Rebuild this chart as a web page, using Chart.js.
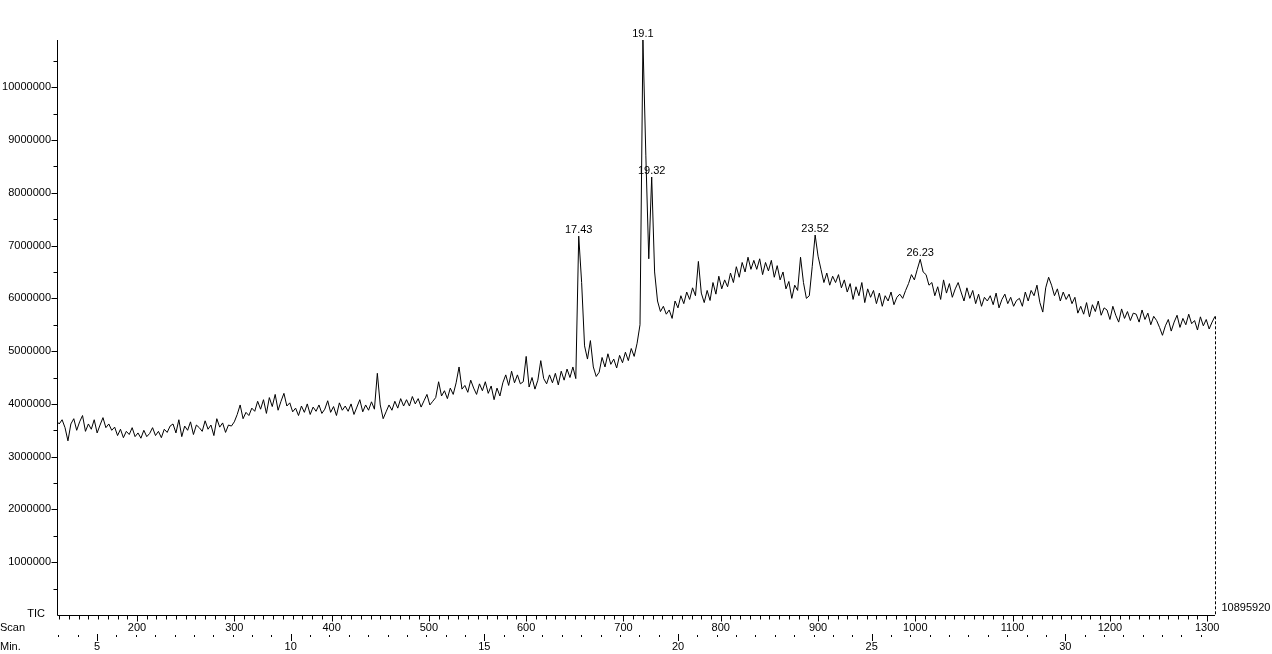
<!DOCTYPE html>
<html>
<head>
<meta charset="utf-8">
<title>TIC</title>
<script src="https://cdn.jsdelivr.net/npm/chart.js@4.4.1/dist/chart.umd.min.js"></script>
<style>
    html, body { margin: 0; padding: 0; background: #fff; }
    canvas { display: block; }
</style>
</head>
<body>
<canvas id="ticChart" width="1272" height="654"></canvas>
<script>
// scans are sampled every 3rd scan, starting at scan 117
const scanFirst = 117;
const scanStep = 3;

// total ion current, in millions of counts
const ticMillions = [
    3.68, 3.62, 3.70, 3.55, 3.30, 3.62, 3.72, 3.50, 3.66, 3.78,
    3.48, 3.62, 3.52, 3.70, 3.45, 3.60, 3.74, 3.55, 3.62, 3.50,
    3.56, 3.40, 3.52, 3.36, 3.48, 3.42, 3.55, 3.38, 3.45, 3.35,
    3.50, 3.38, 3.44, 3.55, 3.40, 3.48, 3.36, 3.52, 3.46, 3.58,
    3.62, 3.45, 3.70, 3.38, 3.58, 3.50, 3.66, 3.42, 3.60, 3.55,
    3.48, 3.68, 3.52, 3.60, 3.40, 3.72, 3.56, 3.64, 3.46, 3.60,
    3.58, 3.66, 3.80, 3.98, 3.72, 3.84, 3.78, 3.92, 3.86, 4.05,
    3.90, 4.08, 3.82, 4.12, 3.95, 4.18, 3.88, 4.05, 4.20, 3.96,
    4.02, 3.85, 3.92, 3.78, 3.96, 3.84, 4.00, 3.80, 3.94, 3.86,
    3.98, 3.82, 3.90, 4.06, 3.84, 3.95, 3.78, 4.02, 3.88, 3.96,
    3.86, 4.00, 3.80, 3.94, 4.08, 3.85, 3.98, 3.88, 4.04, 3.90,
    4.58, 3.98, 3.72, 3.85, 3.98, 3.88, 4.05, 3.92, 4.10, 3.96,
    4.08, 3.96, 4.14, 4.00, 4.10, 3.94, 4.06, 4.18, 3.98, 4.05,
    4.12, 4.42, 4.15, 4.25, 4.10, 4.30, 4.18, 4.40, 4.70, 4.28,
    4.35, 4.22, 4.45, 4.30, 4.18, 4.38, 4.25, 4.42, 4.20, 4.34,
    4.08, 4.30, 4.15, 4.40, 4.55, 4.35, 4.62, 4.40, 4.55, 4.38,
    4.42, 4.90, 4.32, 4.50, 4.28, 4.45, 4.82, 4.48, 4.38, 4.55,
    4.40, 4.58, 4.36, 4.62, 4.45, 4.66, 4.50, 4.70, 4.48, 7.18,
    6.30, 5.10, 4.85, 5.20, 4.70, 4.52, 4.60, 4.88, 4.70, 4.95,
    4.75, 4.85, 4.68, 4.92, 4.78, 4.98, 4.82, 5.05, 4.90, 5.15,
    5.50, 10.89592, 8.70, 6.75, 8.30, 6.50, 5.95, 5.75, 5.85, 5.70,
    5.78, 5.62, 5.95, 5.82, 6.05, 5.90, 6.12, 5.98, 6.20, 6.05,
    6.70, 6.10, 5.92, 6.15, 5.96, 6.30, 6.08, 6.42, 6.18, 6.35,
    6.22, 6.48, 6.30, 6.60, 6.40, 6.68, 6.50, 6.78, 6.55, 6.72,
    6.55, 6.75, 6.45, 6.68, 6.52, 6.72, 6.40, 6.62, 6.35, 6.50,
    6.18, 6.32, 6.00, 6.25, 6.15, 6.78, 6.30, 6.00, 6.05, 6.60,
    7.20, 6.80, 6.55, 6.30, 6.48, 6.25, 6.42, 6.30, 6.45, 6.20,
    6.35, 6.12, 6.28, 5.98, 6.22, 6.05, 6.30, 5.92, 6.18, 6.02,
    6.15, 5.90, 6.10, 5.85, 6.05, 5.95, 6.12, 5.88, 6.02, 6.08,
    6.00, 6.15, 6.28, 6.45, 6.35, 6.55, 6.74, 6.50, 6.45, 6.25,
    6.30, 6.05, 6.22, 5.98, 6.35, 6.10, 6.28, 6.02, 6.18, 6.30,
    6.12, 5.95, 6.20, 6.00, 6.15, 5.90, 6.08, 5.85, 6.02, 5.95,
    6.05, 5.88, 6.10, 5.82, 5.98, 6.08, 5.90, 6.02, 5.85, 5.96,
    6.00, 5.85, 6.12, 5.95, 6.15, 6.05, 6.25, 5.92, 5.74, 6.20,
    6.40, 6.25, 6.05, 6.18, 5.95, 6.12, 5.98, 6.08, 5.90, 6.02,
    5.72, 5.85, 5.70, 5.92, 5.65, 5.88, 5.75, 5.95, 5.68, 5.82,
    5.78, 5.60, 5.85, 5.68, 5.55, 5.80, 5.62, 5.75, 5.58, 5.72,
    5.70, 5.55, 5.78, 5.60, 5.72, 5.50, 5.66, 5.58, 5.45, 5.30,
    5.48, 5.60, 5.38, 5.55, 5.68, 5.45, 5.62, 5.50, 5.70, 5.52,
    5.58, 5.40, 5.65, 5.48, 5.60, 5.42, 5.55, 5.66
];

const peakScans = [654, 720, 729, 897, 1005];
const peakLabels = ['17.43', '19.1', '19.32', '23.52', '26.23'];

const yTickValues = [1000000, 2000000, 3000000, 4000000, 5000000,
    6000000, 7000000, 8000000, 9000000, 10000000];

const scanRange = [117.75, 1308];
const minuteRange = [3.966, 33.865];
const fullScale = 10895920;

const labelFont = '11px "Liberation Sans", Arial, sans-serif';

const points = ticMillions.map((v, i) => ({
    x: scanFirst + i * scanStep,
    y: Math.round(v * 1000000)
}));

function valueAtScan(scan) {
    const p = points.find(pt => pt.x === scan);
    return p ? p.y : 0;
}

const axisDecor = {
    id: 'axisDecor',
    afterDraw(chart) {
        const ctx = chart.ctx;
        const area = chart.chartArea;
        const sx = chart.scales.x;
        const sm = chart.scales.xMin;
        const sy = chart.scales.y;
        const left = Math.round(area.left) + 0.5;
        const base = Math.round(area.bottom) + 0.5;

        ctx.save();
        ctx.strokeStyle = '#000';
        ctx.fillStyle = '#000';
        ctx.lineWidth = 1;
        ctx.font = labelFont;

        ctx.beginPath();
        ctx.moveTo(left, Math.round(area.top));
        ctx.lineTo(left, base);
        ctx.lineTo(Math.round(area.right), base);

        for (let v = 500000; v <= sy.max; v += 500000) {
            const py = Math.round(sy.getPixelForValue(v)) + 0.5;
            const len = v % 1000000 === 0 ? 6 : 4;
            ctx.moveTo(left - len, py);
            ctx.lineTo(left, py);
        }

        for (let s = Math.ceil(sx.min / 10) * 10; s <= sx.max; s += 10) {
            const px = Math.round(sx.getPixelForValue(s)) + 0.5;
            ctx.moveTo(px, base);
            ctx.lineTo(px, base + (s % 100 === 0 ? 6 : 4));
        }

        for (let m = Math.ceil(sm.min * 2) / 2; m <= sm.max; m += 0.5) {
            const px = Math.round(sm.getPixelForValue(m));
            if (m % 5 === 0) {
                ctx.moveTo(px + 0.5, 634);
                ctx.lineTo(px + 0.5, 641);
            } else {
                ctx.fillRect(px, 635, 1, 2);
            }
        }
        ctx.stroke();

        // dashed marker at the end of the run
        const last = points[points.length - 1];
        const lx = Math.round(sx.getPixelForValue(last.x)) + 0.5;
        ctx.beginPath();
        ctx.setLineDash([3, 2]);
        ctx.moveTo(lx, sy.getPixelForValue(last.y));
        ctx.lineTo(lx, base);
        ctx.stroke();
        ctx.setLineDash([]);

        ctx.textBaseline = 'middle';
        ctx.textAlign = 'center';
        for (let s = Math.ceil(sx.min / 100) * 100; s <= sx.max; s += 100) {
            ctx.fillText(String(s), sx.getPixelForValue(s), 628);
        }
        for (let m = Math.ceil(sm.min / 5) * 5; m <= sm.max; m += 5) {
            ctx.fillText(String(m), sm.getPixelForValue(m), 647);
        }

        ctx.textAlign = 'left';
        ctx.fillText('Scan', 0, 628);
        ctx.fillText('Min.', 0, 647);
        ctx.fillText(String(fullScale), lx + 6, 608);
        ctx.textAlign = 'right';
        ctx.fillText('TIC', 45, 614);

        ctx.textAlign = 'center';
        ctx.textBaseline = 'alphabetic';
        peakScans.forEach((scan, i) => {
            const px = sx.getPixelForValue(scan);
            const py = sy.getPixelForValue(valueAtScan(scan));
            ctx.fillText(peakLabels[i], px, py - 3);
        });

        ctx.restore();
    }
};

const ticChart = new Chart(document.getElementById('ticChart').getContext('2d'), {
    type: 'line',
    data: {
        datasets: [{
            label: 'TIC',
            data: points,
            xAxisID: 'x',
            yAxisID: 'y',
            borderColor: '#000',
            borderWidth: 1,
            pointRadius: 0,
            tension: 0,
            fill: false
        }]
    },
    options: {
        responsive: false,
        animation: false,
        events: [],
        layout: {
            padding: { left: 0, right: 57, top: 40, bottom: 39 }
        },
        plugins: {
            legend: { display: false },
            tooltip: { enabled: false }
        },
        scales: {
            x: {
                type: 'linear',
                display: false,
                min: scanRange[0],
                max: scanRange[1]
            },
            xMin: {
                type: 'linear',
                axis: 'x',
                display: false,
                min: minuteRange[0],
                max: minuteRange[1]
            },
            y: {
                type: 'linear',
                min: 0,
                max: fullScale,
                afterFit: scale => { scale.width = 57; },
                afterBuildTicks: scale => {
                    scale.ticks = yTickValues.map(v => ({ value: v }));
                },
                border: { display: false },
                grid: { display: false, drawTicks: false },
                ticks: {
                    autoSkip: false,
                    padding: 6,
                    color: '#000',
                    font: { family: '"Liberation Sans", Arial, sans-serif', size: 11 },
                    callback: v => String(v)
                }
            }
        }
    },
    plugins: [axisDecor]
});
</script>
</body>
</html>
